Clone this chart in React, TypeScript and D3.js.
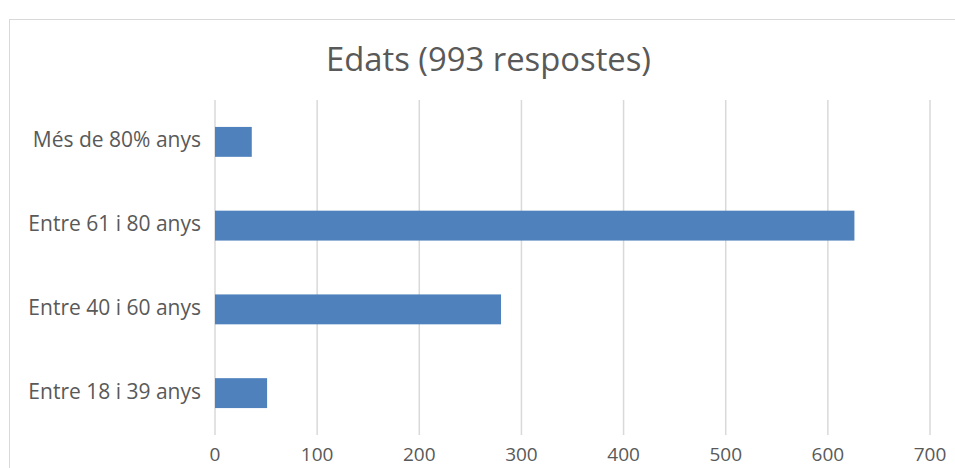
import React from "react";
import * as d3 from "d3";

const categories = ["Més de 80% anys", "Entre 61 i 80 anys", "Entre 40 i 60 anys", "Entre 18 i 39 anys"];
const values = [36, 626, 280, 51];
const xTicks = [0, 100, 200, 300, 400, 500, 600, 700];
const title = "Edats (993 respostes)";

const FONT = "'Open Sans', Lato, sans-serif";
const TEXT = "#595959";

export default function App() {
  const W = 955, H = 468;
  const x = d3.scaleLinear().domain([0, 700]).range([215, 930]);
  const y = d3.scaleBand<string>().domain(categories).range([100, 435]).paddingInner(0.643).paddingOuter(0.3215);
  return (
    <svg width={W} height={H} style={{ position: "absolute", left: 0, top: 0, background: "#fff" }}>
      <rect x={9.5} y={19.5} width={1000} height={500} fill="#fff" stroke="#d9d9d9" strokeWidth={1} />
      <text x={488.5} y={70.5} textAnchor="middle" fontFamily={FONT} fontSize={32.8} fill={TEXT}>{title}</text>
      {xTicks.map(t => (
        <line key={t} x1={x(t)} x2={x(t)} y1={100} y2={435} stroke="#d9d9d9" strokeWidth={1.5} />
      ))}
      {categories.map((c, i) => (
        <rect key={c} x={x(0)} y={y(c)} width={x(values[i]) - x(0)} height={y.bandwidth()} fill="#4f81bd" />
      ))}
      {categories.map(c => (
        <text key={c} x={201} y={(y(c) as number) + y.bandwidth() / 2 + 5.5} textAnchor="end" fontFamily={FONT} fontSize={21} fill={TEXT}>{c}</text>
      ))}
      {xTicks.map(t => (
        <text key={t} x={x(t)} y={461} textAnchor="middle" fontFamily={FONT} fontSize={19} fill={TEXT}>{t}</text>
      ))}
    </svg>
  );
}
